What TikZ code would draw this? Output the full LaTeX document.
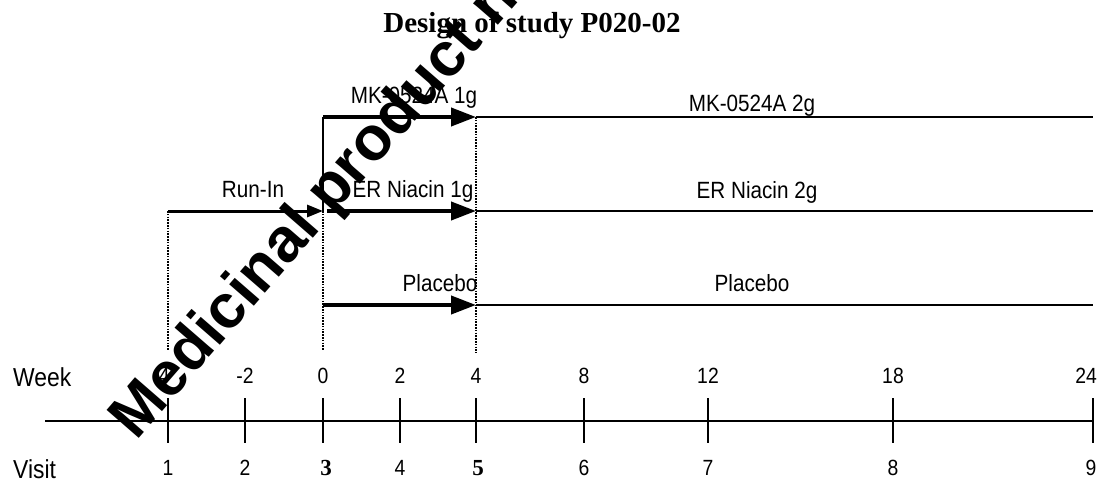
\documentclass[tikz,border=0pt]{standalone}
\usepackage{fontspec}
\setmainfont{Liberation Serif}
\newfontfamily\narrowsans[FakeStretch=0.88]{Liberation Sans}
\newfontfamily\wmfont{Liberation Sans}
\usetikzlibrary{arrows.meta}
\begin{document}
\begin{tikzpicture}[x=1pt,y=-1pt,
  lbl/.style={font=\narrowsans\fontsize{23.5}{28}\selectfont, inner sep=0pt, anchor=base},
  axislbl/.style={font=\narrowsans\fontsize{26}{30}\selectfont, inner sep=0pt, anchor=base west},
  num/.style={font=\narrowsans\fontsize{22}{26}\selectfont, inner sep=0pt, anchor=base},
  boldnum/.style={font=\bfseries\fontsize{23}{27}\selectfont, inner sep=0pt, anchor=base},
  titlestyle/.style={font=\bfseries\fontsize{29}{34}\selectfont, inner sep=0pt, anchor=base},
  bigarrow/.style={line width=4pt, -{Triangle[length=25pt,width=18pt]}},
  midarrow/.style={line width=3pt, -{Triangle[length=16pt,width=12pt]}},
  thinline/.style={line width=1.4pt},
  midline/.style={line width=2pt},
  dotline/.style={line width=2.2pt, dash pattern=on 1.6pt off 1.2pt},
  tickline/.style={line width=1.5pt},
  watermark/.style={font=\wmfont\bfseries\fontsize{62}{66}\selectfont, inner sep=0pt, anchor=base west, rotate=49}]
\useasboundingbox (0,0) rectangle (1099,481);
\fill[white] (0,0) rectangle (1099,481);

% title
\node[titlestyle] (title) at (532,33) {Design of study P020-02};

% key points
\coordinate (mk0) at (323,117);
\coordinate (mk1) at (476,117);
\coordinate (mk2) at (1093,117);
\coordinate (ri0) at (168,211);
\coordinate (ri1) at (323,211);
\coordinate (er0) at (327,211);
\coordinate (er1) at (476,211);
\coordinate (er2) at (1093,211);
\coordinate (pl0) at (323,305);
\coordinate (pl1) at (476,305);
\coordinate (pl2) at (1093,305);
\coordinate (d1b) at (168,350);
\coordinate (d3b) at (323,350);
\coordinate (d5b) at (476,353);

% vertical connectors
\draw[thinline] (mk0) -- (ri1);
\draw[dotline] (ri0) -- (d1b);
\draw[dotline] (ri1) -- (d3b);
\draw[dotline] (mk1) -- (d5b);

% treatment lines
\draw[thinline] (mk1) -- (mk2);
\draw[midline] (er1) -- (er2);
\draw[thinline] (pl1) -- (pl2);

% arrows
\draw[bigarrow] (mk0) -- (mk1);
\draw[midarrow] (ri0) -- (ri1);
\draw[bigarrow] (er0) -- (er1);
\draw[bigarrow] (pl0) -- (pl1);

% labels
\node[lbl] (lmk1) at (414,104) {MK-0524A 1g};
\node[lbl] (lmk2) at (752,112) {MK-0524A 2g};
\node[lbl] (lrun) at (253,197) {Run-In};
\node[lbl] (ler1) at (413,197) {ER Niacin 1g};
\node[lbl] (ler2) at (757,198) {ER Niacin 2g};
\node[lbl] (lpl1) at (440,291) {Placebo};
\node[lbl] (lpl2) at (752,291) {Placebo};

% time axis
\coordinate (ax0) at (45,421);
\coordinate (ax1) at (1093,421);
\draw[tickline] (ax0) -- (ax1);
\node[axislbl] (week) at (13,386) {Week};
\node[axislbl] (visit) at (13,478) {Visit};
\foreach \i/\x/\wx/\w in {1/168/161/-4, 2/245/245/-2, 3/323/323/0, 4/400/400/2, 5/476/476/4, 6/584/584/8, 7/708/708/12, 8/893/893/18, 9/1093/1086/24}{
  \coordinate (tt\i) at (\x,398);
  \coordinate (tb\i) at (\x,443);
  \draw[tickline] (tt\i) -- (tb\i);
  \node[num] (w\i) at (\wx,383) {\w};
}
\foreach \i/\x in {1/168, 2/245, 4/400, 6/584, 7/708, 8/893, 9/1091}{
  \node[num] (v\i) at (\x,475) {\i};
}
\node[boldnum] (v3) at (326,475) {3};
\node[boldnum] (v5) at (478,475) {5};

% watermark
\begin{scope}
\clip (0,0) rectangle (1099,481);
\node[watermark] (wm) at (136,442) {Medicinal product no longer authorised};
\end{scope}
\end{tikzpicture}
\end{document}
